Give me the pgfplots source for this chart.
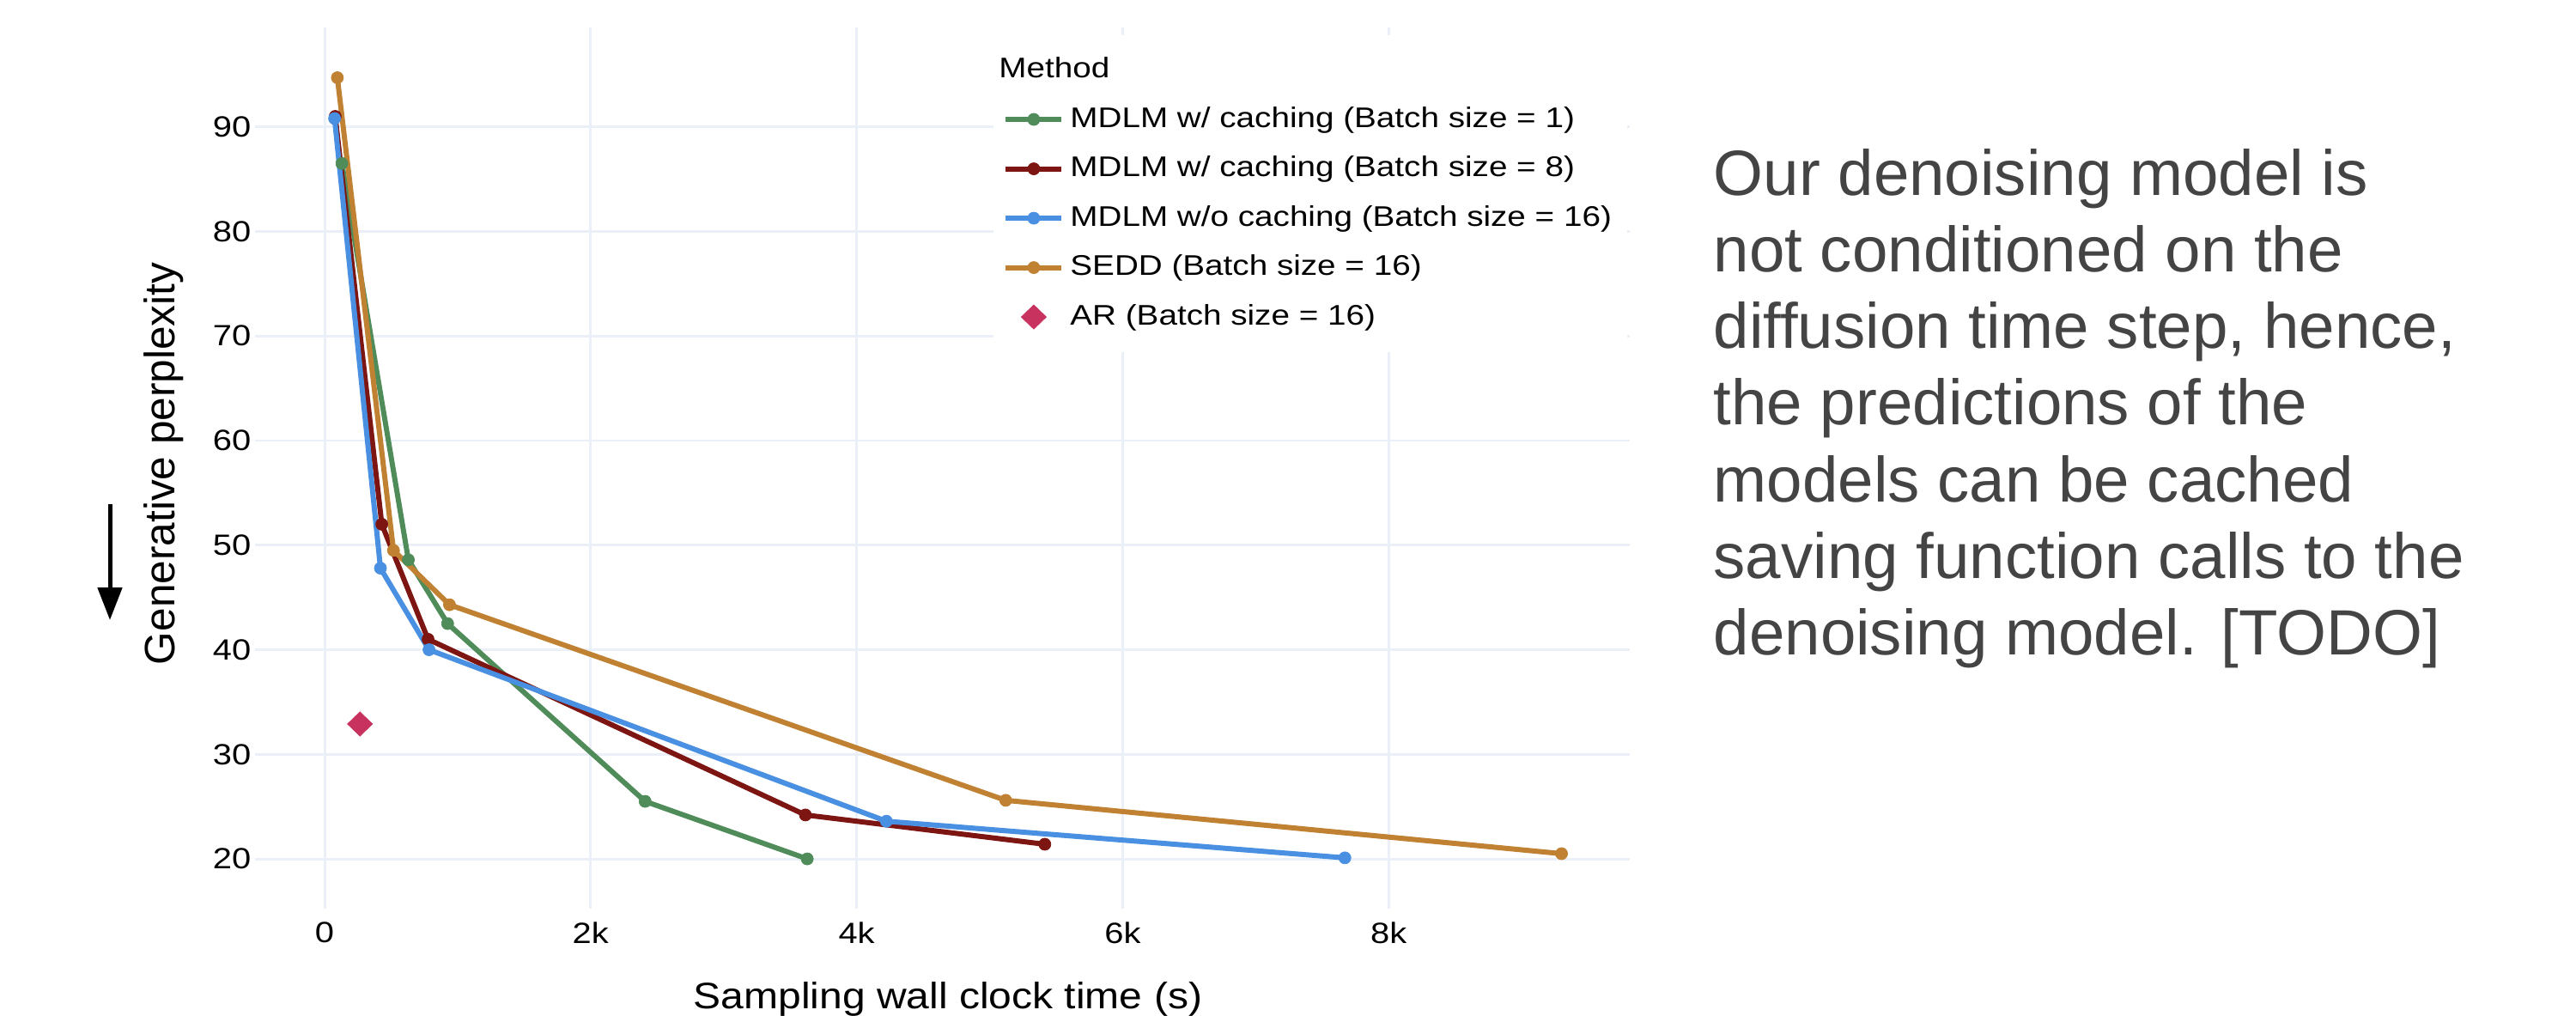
\documentclass[border=0pt]{standalone}
\usepackage{fontspec}
\setmainfont{Liberation Sans}
\newfontfamily\chartfont[FakeStretch=1.17]{Liberation Sans}
\newfontfamily\titlefont[FakeStretch=1.12]{Liberation Sans}
\usepackage{pgfplots}
\pgfplotsset{compat=1.18}
\usetikzlibrary{arrows.meta}
\definecolor{gridc}{RGB}{235,240,248}
\definecolor{cgreen}{RGB}{80,140,90}
\definecolor{cred}{RGB}{125,22,18}
\definecolor{cblue}{RGB}{74,144,226}
\definecolor{corange}{RGB}{192,130,50}
\definecolor{cpink}{RGB}{200,50,95}
\definecolor{txtgray}{RGB}{68,68,68}
\pgfplotsset{
  line legend long/.style={legend image code/.code={\draw[mark repeat=2,mark phase=2,##1] plot coordinates {(0cm,0cm) (0.325cm,0cm) (0.65cm,0cm)};}},
  mark legend mid/.style={legend image code/.code={\draw[##1] plot coordinates {(0.325cm,0cm)};}},
}
\begin{document}
\begin{tikzpicture}[x=1cm,y=1cm]
\path[use as bounding box, fill=white] (0,0) rectangle (30,11.82);
\begin{axis}[
  at={(2.97cm,1.24cm)}, anchor=south west,
  scale only axis, width=16.01cm, height=10.26cm,
  xmin=-523, xmax=9813, ymin=15.24, ymax=99.5,
  xtick={0,2000,4000,6000,8000}, xticklabels={0,2k,4k,6k,8k},
  ytick={20,30,40,50,60,70,80,90},
  scaled x ticks=false,
  /pgf/number format/assume math mode=true,
  axis line style={draw=none}, major tick length=0pt,
  xmajorgrids, ymajorgrids,
  major grid style={gridc, line width=0.85pt},
  ticklabel style={font=\chartfont\fontsize{9.7}{11}\selectfont, inner sep=0pt},
  yticklabel style={anchor=east, xshift=-0.04cm},
  xticklabel style={anchor=north, yshift=-0.15cm},
  xlabel={Sampling wall clock time (s)},
  xlabel style={at={(axis description cs:0.504,0)}, anchor=base, yshift=-1.16cm, inner sep=0pt, font=\titlefont\fontsize{12.2}{14}\selectfont},
  ylabel={Generative perplexity},
  ylabel style={at={(axis description cs:-0.0581,0.505)}, anchor=base, inner sep=0pt, font=\fontsize{14.1}{16}\selectfont},
  legend style={at={(rel axis cs:0.537,0.992)}, anchor=north west, draw=none, fill=white,
    inner xsep=0.11cm, inner ysep=0.19cm, row sep=4.05pt,
    font=\chartfont\fontsize{9.4}{11}\selectfont},
  legend cell align=left,
  line legend long,
]
\addlegendimage{empty legend}
\addlegendentry{\hspace*{-0.83cm}Method}

\addplot[cgreen, line width=1.7pt, mark=*, mark size=2pt, mark options={solid, line width=0.2pt}]
  coordinates {(130,86.5) (630,48.6) (925,42.5) (2410,25.5) (3629,20.0)};
\addlegendentry{MDLM w/ caching (Batch size = 1)}

\addplot[cred, line width=1.7pt, mark=*, mark size=2pt, mark options={solid, line width=0.2pt}]
  coordinates {(80,91.0) (430,52.0) (778,41.0) (3615,24.2) (5415,21.4)};
\addlegendentry{MDLM w/ caching (Batch size = 8)}

\addplot[cblue, line width=1.7pt, mark=*, mark size=2pt, mark options={solid, line width=0.2pt}]
  coordinates {(75,90.8) (420,47.8) (785,40.0) (4224,23.6) (7671,20.1)};
\addlegendentry{MDLM w/o caching (Batch size = 16)}

\addplot[corange, line width=1.7pt, mark=*, mark size=2pt, mark options={solid, line width=0.2pt}]
  coordinates {(96,94.7) (518,49.5) (939,44.3) (5121,25.6) (9300,20.5)};
\addlegendentry{SEDD (Batch size = 16)}

\addplot[only marks, cpink, mark=diamond*, mark size=4pt, mark options={xscale=1.38, line width=0.2pt}, mark legend mid]
  coordinates {(266,32.9)};
\addlegendentry{AR (Batch size = 16)}
\end{axis}

\draw[line width=0.05cm, -{Triangle[width=0.28cm,length=0.38cm]}] (1.28,5.95) -- (1.28,4.60);

\begin{scope}[every node/.style={anchor=base west, inner sep=0pt, text=txtgray, font=\fontsize{21.2}{25}\selectfont}]
\node at (19.95,9.550) {Our denoising model is};
\node at (19.95,8.657) {not conditioned on the};
\node at (19.95,7.764) {diffusion time step, hence,};
\node at (19.95,6.871) {the predictions of the};
\node at (19.95,5.978) {models can be cached};
\node at (19.95,5.085) {saving function calls to the};
\node at (19.95,4.192) {denoising model. [TODO]};
\end{scope}
\end{tikzpicture}
\end{document}
